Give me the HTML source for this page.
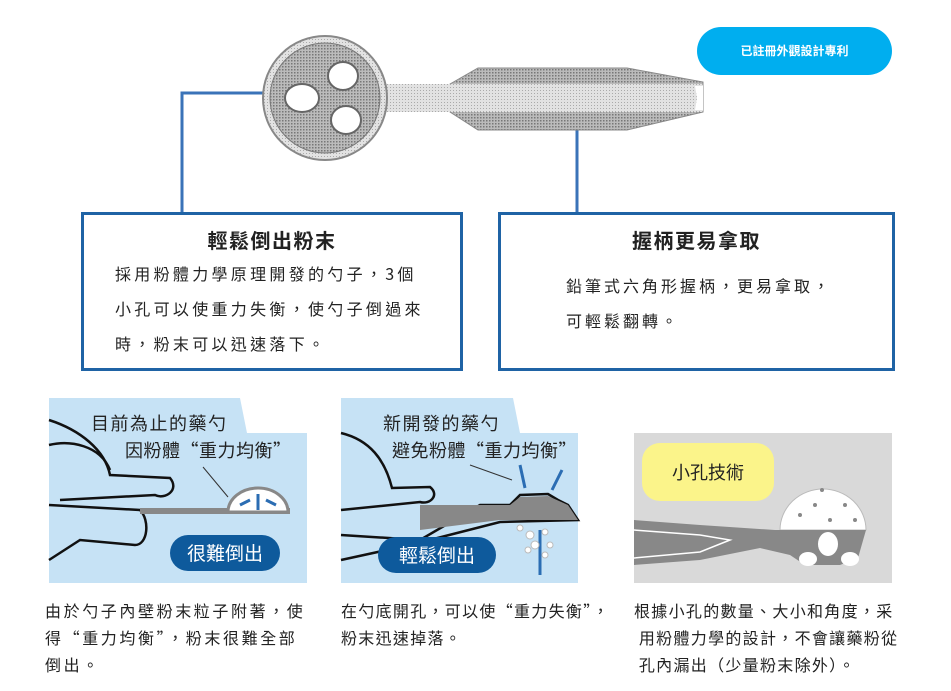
<!DOCTYPE html>
<html><head><meta charset="utf-8"><style>
body{margin:0;width:951px;height:691px;background:#fff;position:relative;overflow:hidden;font-family:"Noto Sans CJK TC","Liberation Sans",sans-serif;color:#222}
.a{position:absolute;white-space:nowrap}
.box{position:absolute;border:3px solid #1f63a5;background:#fff;box-sizing:border-box}
</style></head><body>
<svg class="a" style="left:0;top:0" width="951" height="691">
<defs><pattern id="d" width="3" height="3" patternUnits="userSpaceOnUse"><rect width="3" height="3" fill="#bbb"/><rect width="1.5" height="1.5" fill="#777"/></pattern>
<pattern id="l" width="3" height="3" patternUnits="userSpaceOnUse"><rect width="3" height="3" fill="#e2e2e2"/><rect width="1" height="1" fill="#aaa"/></pattern></defs>
<polyline points="182,213 182,93 264,93" fill="none" stroke="#3a73b8" stroke-width="3"/>
<line x1="577" y1="115" x2="577" y2="213" stroke="#3a73b8" stroke-width="3"/>
<polygon points="450,84 478,68 627,68 703,82 703,112 627,130 478,130 450,112" fill="url(#d)" stroke="#888"/>
<polygon points="385,84 703,84 703,112 385,112" fill="url(#l)"/>
<path d="M695,86 L703,86 L703,110 L695,110 L697,98Z" fill="#fff"/>
<circle cx="325" cy="98" r="62" fill="url(#l)" stroke="#888" stroke-width="2"/>
<circle cx="325" cy="98" r="55" fill="url(#d)" stroke="#777"/>
<ellipse cx="302" cy="98" rx="17" ry="14" fill="#fff" stroke="#666" stroke-width="2"/>
<ellipse cx="343" cy="76" rx="15" ry="14" fill="#fff" stroke="#666" stroke-width="2"/>
<ellipse cx="346" cy="120" rx="15" ry="14" fill="#fff" stroke="#666" stroke-width="2"/>
<polygon points="49,398 240,398 247,433 307,433 307,583 49,583" fill="#c6e2f5"/>
<path d="M49,420 C80,430 105,450 110,475 L170,478 C180,490 165,500 155,495 L60,500" fill="none" stroke="#111" stroke-width="2.5"/>
<path d="M49,445 C70,440 100,445 110,470 M49,505 L140,510 C150,520 148,545 135,545 L80,540 L49,560" fill="none" stroke="#111" stroke-width="2.5"/>
<rect x="140" y="508" width="150" height="6" fill="#888"/>
<path d="M228,512 A30,24 0 0 1 288,512Z" fill="#fff" stroke="#888" stroke-width="3"/>
<path d="M258,510 L258,494 M240,505 L250,500 M276,505 L266,500" stroke="#2b6db3" stroke-width="3"/>
<line x1="203" y1="467" x2="228" y2="497" stroke="#333"/>
<rect x="170" y="535" width="110" height="36" rx="18" fill="#0e5a9c"/>
<polygon points="341,398 513,398 520,433 578,433 578,583 341,583" fill="#c6e2f5"/>
<path d="M341,433 C370,440 385,460 392,488 L430,487 C440,495 430,505 420,502 L341,510 M341,535 L420,540 L480,505 L510,505 L520,495 L548,494 L558,500 L568,505 L578,520 L500,522 L410,545 L341,560" fill="none" stroke="#111" stroke-width="2.5"/>
<polygon points="420,505 510,505 520,497 548,496 568,505 578,520 500,520 420,530" fill="#888"/>
<path d="M520,465 L525,488 M562,470 L552,490 M540,530 L540,575" stroke="#2b6db3" stroke-width="3"/>
<line x1="470" y1="465" x2="512" y2="480" stroke="#333"/>
<g fill="#fff" stroke="#bbb"><circle cx="520" cy="528" r="3"/><circle cx="530" cy="535" r="4"/><circle cx="545" cy="532" r="3"/><circle cx="535" cy="545" r="4"/><circle cx="550" cy="545" r="3"/><circle cx="528" cy="550" r="3"/><circle cx="545" cy="555" r="3"/></g>
<rect x="378" y="537" width="118" height="36" rx="18" fill="#0e5a9c"/>
<rect x="634" y="433" width="258" height="150" fill="#d9d9d9"/>
<rect x="642" y="443" width="132" height="58" rx="18" fill="#fbf48a"/>
<path d="M780,530 A42,40 0 0 1 866,530Z" fill="#fff" stroke="#bbb"/>
<g fill="#888"><circle cx="800" cy="515" r="2"/><circle cx="815" cy="505" r="2"/><circle cx="830" cy="520" r="2"/><circle cx="845" cy="505" r="2"/><circle cx="855" cy="520" r="2"/><circle cx="822" cy="490" r="2"/></g>
<path d="M634,520 L700,525 L775,530 L866,530 L858,558 L840,565 L805,565 L790,555 L760,548 L700,560 L634,565Z" fill="#888"/>
<path d="M634,530 L700,535 L730,540 L700,552 L634,558" fill="none" stroke="#fff" stroke-width="1.5"/>
<ellipse cx="828" cy="544" rx="10" ry="12" fill="#fff"/><ellipse cx="808" cy="559" rx="9" ry="7" fill="#fff"/><ellipse cx="850" cy="559" rx="9" ry="7" fill="#fff"/>
<rect x="697" y="27" width="195" height="48" rx="24" fill="#00aeef"/>
</svg>
<div class="a" style="left:697px;top:27px;width:195px;line-height:48px;text-align:center;color:#fff;font-size:12px;font-weight:bold">已註冊外觀設計專利</div>
<div class="box" style="left:81px;top:212px;width:382px;height:159px"></div>
<div class="a" style="left:81px;top:226px;width:382px;text-align:center;font-size:20px;letter-spacing:1.5px;font-weight:bold;line-height:28px">輕鬆倒出粉末</div>
<div class="a" style="left:115px;top:256px;font-size:16px;letter-spacing:3.3px;line-height:35px">採用粉體力學原理開發的勺子，3個<br>小孔可以使重力失衡，使勺子倒過來<br>時，粉末可以迅速落下。</div>
<div class="box" style="left:498px;top:212px;width:397px;height:159px"></div>
<div class="a" style="left:498px;top:226px;width:397px;text-align:center;font-size:20px;letter-spacing:1.5px;font-weight:bold;line-height:28px">握柄更易拿取</div>
<div class="a" style="left:566px;top:268px;font-size:16px;letter-spacing:3px;line-height:35px">鉛筆式六角形握柄，更易拿取，<br>可輕鬆翻轉。</div>
<div class="a" style="left:91px;top:410px;font-size:18px;letter-spacing:1.5px;line-height:26px">目前為止的藥勺</div>
<div class="a" style="left:125px;top:437px;font-size:18px;letter-spacing:0.5px;line-height:26px">因粉體“重力均衡”</div>
<div class="a" style="left:170px;top:535px;width:110px;line-height:36px;text-align:center;color:#fff;font-size:19px">很難倒出</div>
<div class="a" style="left:383px;top:410px;font-size:18px;letter-spacing:1.5px;line-height:26px">新開發的藥勺</div>
<div class="a" style="left:392px;top:437px;font-size:18px;letter-spacing:0.5px;line-height:26px">避免粉體“重力均衡”</div>
<div class="a" style="left:378px;top:537px;width:118px;line-height:36px;text-align:center;color:#fff;font-size:19px">輕鬆倒出</div>
<div class="a" style="left:642px;top:443px;width:132px;line-height:58px;text-align:center;font-size:18px">小孔技術</div>
<div class="a" style="left:45px;top:597px;font-size:16px;letter-spacing:2.6px;line-height:27px">由於勺子內壁粉末粒子附著，使<br>得“重力均衡”，粉末很難全部<br>倒出。</div>
<div class="a" style="left:341px;top:597px;font-size:16px;letter-spacing:1.3px;line-height:27px">在勺底開孔，可以使“重力失衡”，<br>粉末迅速掉落。</div>
<div class="a" style="left:634px;top:597px;font-size:16px;letter-spacing:1.3px;line-height:27px">根據小孔的數量、大小和角度，采<br>&nbsp;用粉體力學的設計，不會讓藥粉從<br>&nbsp;孔內漏出（少量粉末除外）。</div>
</body></html>
